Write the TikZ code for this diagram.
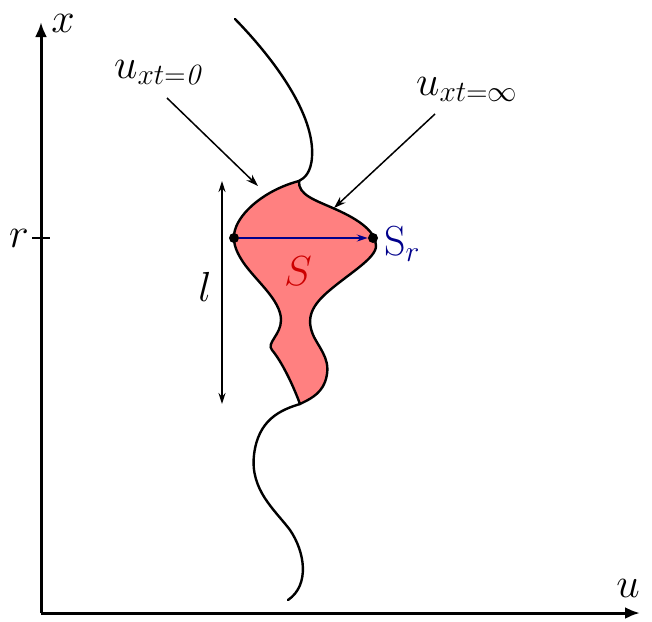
\documentclass[tikz,border=0pt]{standalone}
\usepackage{fix-cm}
\usetikzlibrary{arrows.meta}
\definecolor{blobfill}{HTML}{FF8080}
\definecolor{sred}{HTML}{CC0000}
\definecolor{snavy}{HTML}{00008B}
\tikzset{
  axis/.style={line width=3pt,-{Latex[length=15pt,width=12pt]}},
  curve/.style={line width=2.4pt,line cap=round,line join=round},
  pointer/.style={line width=1.5pt,-{Stealth[length=12pt,width=8pt]}},
  lbl/.style={font=\fontsize{42}{44}\selectfont,inner sep=0pt},
  dot/.style={circle,fill=black,inner sep=0pt,minimum size=10pt},
}
\begin{document}
\begin{tikzpicture}[x=1pt,y=-1pt]
\useasboundingbox (0,0) rectangle (652,621);
% axes
\coordinate (O) at (41,613);
\coordinate (Xend) at (41,22);
\coordinate (Uend) at (640,613);
\draw[axis] (O) -- (Xend);
\draw[axis] (O) -- (Uend);
\coordinate (ta) at (32,238);
\coordinate (tb) at (50,238);
\draw[line width=1.8pt] (ta) -- (tb);
\node[lbl] (xl) at (63,23) {$x$};
\node[lbl] (ul) at (628,588) {$u$};
\node[lbl] (rl) at (19,238) {$r$};
% blob
\filldraw[curve,fill=blobfill] (299,181)
  .. controls (298,195) and (315,200) .. (335,209)
  .. controls (360,220) and (376,232) .. (376,246)
  .. controls (376,258) and (350,273) .. (330,290)
  .. controls (312,305) and (305,318) .. (314,337)
  .. controls (322,352) and (332,362) .. (325,382)
  .. controls (320,395) and (308,400) .. (300,404)
  .. controls (293,385) and (282,362) .. (272,350)
  .. controls (266,343) and (281,335) .. (281,320)
  .. controls (281,300) and (255,280) .. (243,262)
  .. controls (235,250) and (232,240) .. (235,230)
  .. controls (240,212) and (265,190) .. (299,181) -- cycle;
% upper curve
\draw[curve] (235,19) .. controls (275,60) and (315,115) .. (312,157)
  .. controls (311,172) and (305,178) .. (299,181);
% lower curve
\draw[curve] (300,404) .. controls (280,410) and (258,420) .. (254,455)
  .. controls (250,490) and (275,510) .. (290,530)
  .. controls (305,552) and (310,585) .. (288,600);
% points
\node[dot] (L) at (234,238) {};
\node[dot] (R) at (373,238) {};
\draw[snavy,line width=1.6pt,-{Stealth[length=11pt,width=7pt]}] (L) -- (R.west);
\node[lbl,text=sred] (S) at (298,271) {$S$};
\node[lbl,text=snavy,anchor=west] (Sr) at (384,244) {$\mathrm{S}_r$};
% length l
\coordinate (lt) at (222,181);
\coordinate (lb) at (222,404);
\draw[line width=1.5pt,{Stealth[length=11pt,width=7pt]}-{Stealth[length=11pt,width=7pt]}] (lt) -- (lb);
\node[lbl] (ll) at (205,287) {$l$};
% labels u_xt
\node[lbl,anchor=base west] (u0) at (114,78) {$u_{xt=\mathit{0}}$};
\node[lbl,anchor=base west] (ui) at (416,95) {$u_{xt=\infty}$};
\coordinate (a0s) at (167,98);
\coordinate (a0e) at (258,186);
\draw[pointer] (a0s) -- (a0e);
\coordinate (ais) at (435,114);
\coordinate (aie) at (334,208);
\draw[pointer] (ais) -- (aie);
\end{tikzpicture}
\end{document}
